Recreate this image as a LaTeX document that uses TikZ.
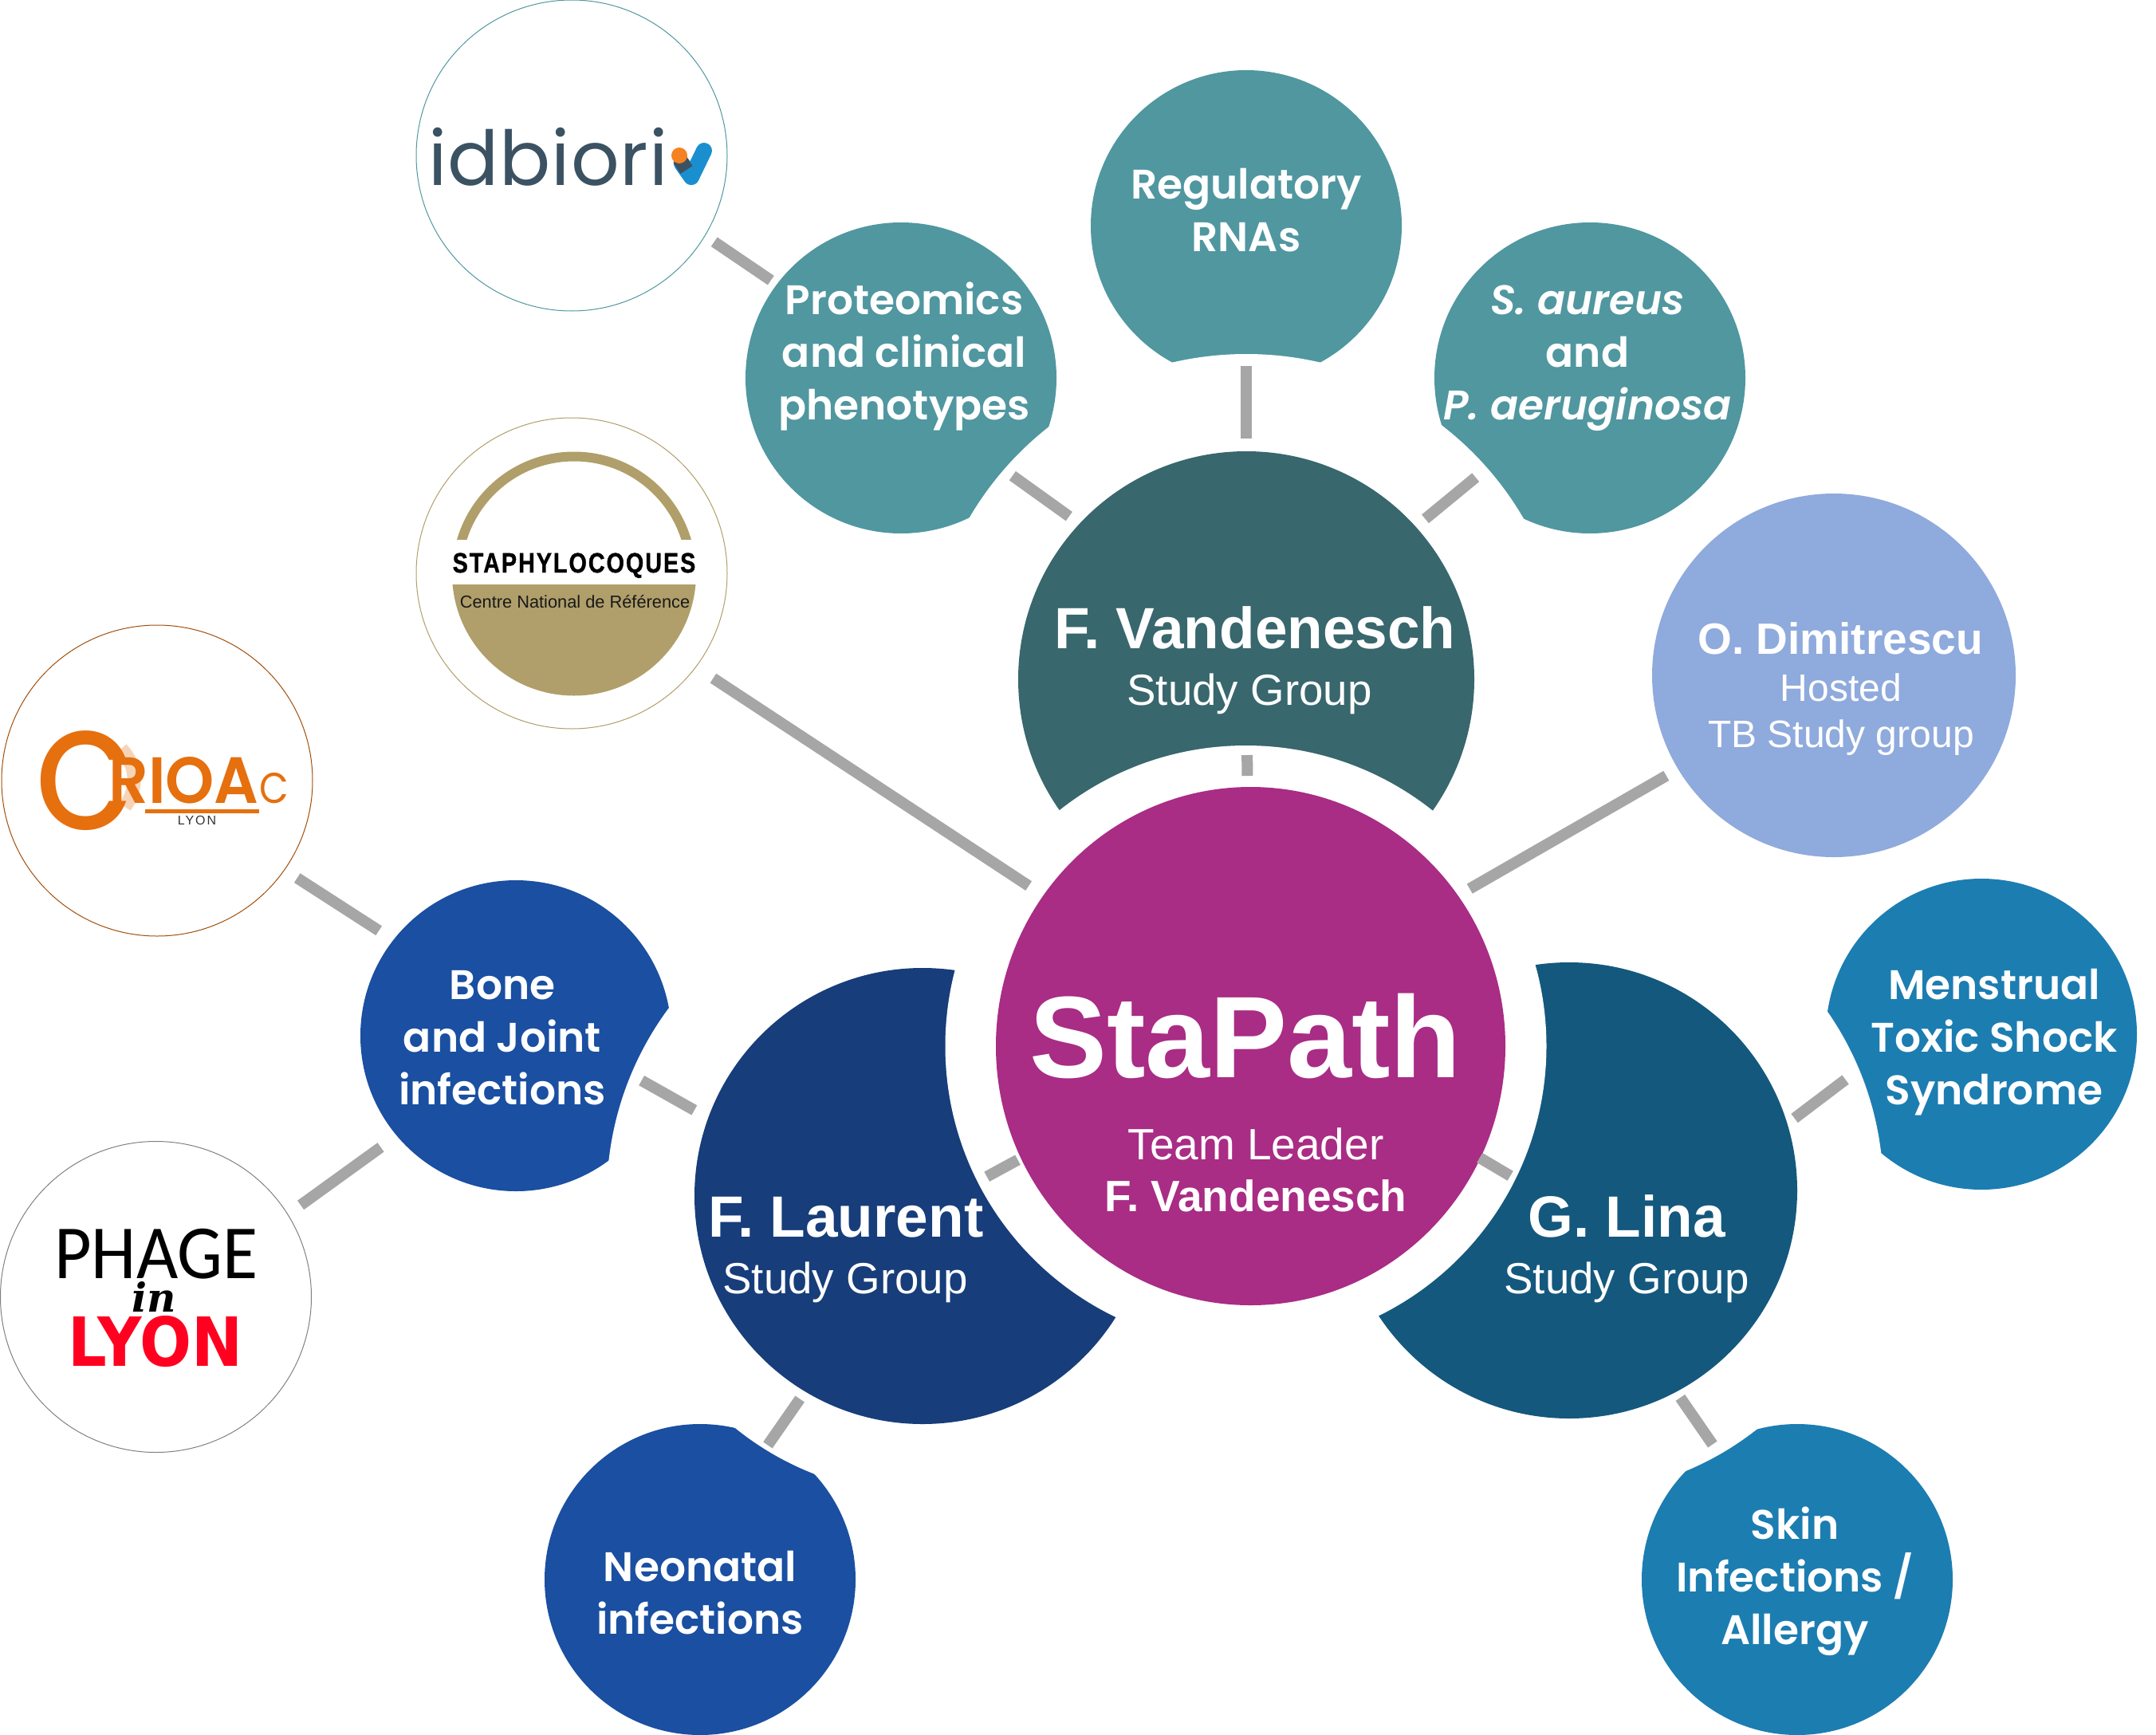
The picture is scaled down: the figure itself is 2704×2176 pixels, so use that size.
\documentclass[tikz,border=0pt]{standalone}
\usetikzlibrary{shapes.geometric}
\usepackage{fontspec}
\setmainfont{Liberation Sans}
\newfontfamily\labfont{Poppins SemiBold}[ItalicFont={Poppins SemiBold Italic}]
\newfontfamily\popfont{Poppins}
\newfontfamily\popmed{Poppins Medium}
\newfontfamily\dvserif{DejaVu Serif}
\newfontfamily\dvsans{DejaVu Sans}
\newfontfamily\carl{Carlito}
\newfontfamily\stafont[FakeBold=1.2,LetterSpace=7]{Liberation Sans Bold}
\definecolor{cTeal}{HTML}{5097A0}
\definecolor{cVand}{HTML}{38676D}
\definecolor{cCtr}{HTML}{A92C85}
\definecolor{cLaur}{HTML}{173D7A}
\definecolor{cLina}{HTML}{14587D}
\definecolor{cBone}{HTML}{1A4FA1}
\definecolor{cMens}{HTML}{1C7DB1}
\definecolor{cDimi}{HTML}{8FAADC}
\definecolor{cConn}{HTML}{A6A6A6}
\definecolor{cGold}{HTML}{B09F6A}
\definecolor{cOrange}{HTML}{E66F0E}
\definecolor{cIdb}{HTML}{3B5263}
\definecolor{cChkBlue}{HTML}{1A8FD0}
\definecolor{cChkOrange}{HTML}{F58220}
\definecolor{cRed}{HTML}{FF0020}
\tikzset{
  disc/.style={circle,inner sep=0pt,outer sep=0pt,minimum size=#1},
  small/.style={disc=390pt,fill=#1},
  group/.style={disc=572pt,fill=#1},
  logo/.style={disc=390pt,draw=#1,line width=1pt,fill=white},
  conn/.style={draw=cConn,line width=14pt},
  sl/.style={text=white,align=center,anchor=base,font=\labfont\fontsize{51.8}{65.8}\selectfont},
  bigname/.style={text=white,anchor=base,font=\bfseries\fontsize{73}{73}\selectfont},
  subname/.style={text=white,anchor=base,font=\fontsize{54.7}{55}\selectfont},
}
\begin{document}
\begin{tikzpicture}[x=1pt,y=-1pt]
\useasboundingbox (0,0) rectangle (2704,2176);
\coordinate (pV) at (1563,852);
\coordinate (pL) at (1157,1500);
\coordinate (pG) at (1968,1493);
\coordinate (pC) at (1568.5,1312);
\coordinate (pH) at (1562.5,1312);
% small discs, each cut by the white halo of its study group
\node[small=cTeal] (reg) at (1563,283) {};
\fill[white] (pV) circle[radius=408];
\node[small=cTeal] (prot) at (1130,474) {};
\node[small=cTeal] (saur) at (1994,474) {};
\fill[white] (pV) circle[radius=402];
\node[small=cBone] (bone) at (647,1299) {};
\fill[white] (pL) circle[radius=396];
\node[small=cBone] (neo) at (878,1981) {};
\fill[white] (pL) circle[radius=374];
\node[small=cMens] (mens) at (2485,1297) {};
\fill[white] (pG) circle[radius=394];
\node[small=cMens] (skin) at (2254,1981) {};
\fill[white] (pG) circle[radius=381];
% study groups
\node[group=cVand] (vand) at (pV) {};
\node[group=cLaur] (laur) at (pL) {};
\node[group=cLina] (lina) at (pG) {};
% centre
\fill[white] (pH) circle[radius=377];
\node[ellipse,inner sep=0pt,outer sep=0pt,minimum width=639pt,minimum height=650pt,fill=cCtr] (ctr) at (pC) {};
\node[disc=456pt,fill=cDimi] (dimi) at (2300,847) {};
% logos
\node[logo=cTeal] (idb) at (717,195) {};
\node[logo=cGold] (staph) at (717,719) {};
\node[logo=cOrange!70!black] (crio) at (197,979) {};
\node[logo=gray] (phage) at (195.5,1626.5) {};
% connectors
\draw[conn,shorten <=14,shorten >=9] (idb.-31.5) -- (prot.143.5);
\draw[conn,shorten <=-9,shorten >=16] (prot.-41.5) -- (vand.137.5);
\draw[conn,shorten <=-19,shorten >=16] (reg.-90) -- (vand.90);
\draw[conn,shorten <=-5,shorten >=15.5] (saur.221.5) -- (vand.42.6);
\draw[conn,shorten <=95,shorten >=339] (vand.center) -- (ctr.center);
\draw[conn,shorten <=26,shorten >=22] (staph.-37.3) -- (ctr.144.5);
\draw[conn,shorten <=17,shorten >=17] (dimi.211) -- (ctr.36.1);
\draw[conn,shorten <=19,shorten >=21.6] (crio.-35.1) -- (bone.142.1);
\draw[conn,shorten <=-28,shorten >=20] (bone.-21) -- (laur.160.8);
\draw[conn,shorten <=20,shorten >=24.8] (phage.32.6) -- (bone.220.9);
\draw[conn,shorten <=368,shorten >=4.5] (laur.212.3) -- (ctr.206.6);
\draw[conn,shorten <=11.4,shorten >=-6.3] (laur.239) -- (neo.63.2);
\draw[conn,shorten <=358,shorten >=-1] (lina.-35.1) -- (ctr.-26.7);
\draw[conn,shorten <=11.4,shorten >=-16] (lina.17.7) -- (mens.200.6);
\draw[conn,shorten <=9,shorten >=5] (lina.-62.6) -- (skin.122.3);
% small labels
\node[sl] (tprot) at (1134,526) {Proteomics\\and clinical\\phenotypes};
\node[sl] (treg) at (1563,315) {Regulatory\\RNAs};
\node[sl] (tsaur) at (1991,526) {\textit{S. aureus}\\and\\\textit{P. aeruginosa}};
\node[sl] (tbone) at (630,1385) {Bone\\and Joint\\infections};
\node[sl] (tneo) at (878,2049) {Neonatal\\infections};
\node[sl] (tmens) at (2501,1385) {Menstrual\\Toxic Shock\\Syndrome};
\node[sl] (tskin) at (2251,2062) {Skin\\Infections /\\Allergy};
% group labels
\node[bigname] (nV) at (1574,813) {F. Vandenesch};
\node[subname] (sV) at (1567,884) {Study Group};
\node[bigname] (nL) at (1061,1551) {F. Laurent};
\node[subname] (sL) at (1060,1622) {Study Group};
\node[bigname] (nG) at (2040,1551) {G. Lina};
\node[subname] (sG) at (2040,1622) {Study Group};
% centre labels
\node[text=white,anchor=base,font=\bfseries\fontsize{145.5}{146}\selectfont] (tC) at (1562,1351) {StaPath};
\node[text=white,anchor=base,font=\fontsize{55}{55}\selectfont] (tC2) at (1575,1454) {Team Leader};
\node[text=white,anchor=base,font=\bfseries\fontsize{55}{55}\selectfont] (tC3) at (1575,1519) {F. Vandenesch};
% Dimitrescu
\node[text=white,anchor=base,font=\bfseries\fontsize{55}{55}\selectfont] (tD1) at (2308,820) {O. Dimitrescu};
\node[text=white,anchor=base,font=\fontsize{48}{48}\selectfont] (tD2) at (2309,879) {Hosted};
\node[text=white,anchor=base,font=\fontsize{48}{48}\selectfont] (tD3) at (2309,937) {TB Study group};
% idbioriv logo
\node[anchor=base west,inner sep=0pt,text=cIdb,font=\popfont\fontsize{95}{95}\selectfont\addfontfeature{LetterSpace=1}] (tidb) at (537,232) {idbiori};
\draw[cChkBlue,line width=20pt,line cap=round,line join=round] (855,205) -- (867,222) -- (883,189);
\draw[cIdb,line width=18pt] (852,199) -- (861,213);
\fill[cChkOrange] (852,195) circle[radius=10];
% staph logo
\begin{scope}
\clip (500,500) rectangle (950,676);
\draw[cGold,line width=12pt] (720,719.5) circle[radius=147];
\end{scope}
\begin{scope}
\clip (500,733) rectangle (950,950);
\fill[cGold] (720,719.5) circle[radius=153];
\end{scope}
\node[anchor=base,inner sep=0pt,text=black,font=\stafont\fontsize{35}{35}\selectfont] (tst) at (720,718) {\scalebox{.82}[1]{STAPHYLOCOQUES}};
\node[anchor=base,inner sep=0pt,text=black!90,font=\fontsize{21.8}{22}\selectfont] (tcn) at (721,762) {Centre National de Référence};
% CRIOAc logo
\draw[cOrange!30!white,line width=17pt] (152,939) arc[start angle=-45,end angle=38,radius=55];
\node[anchor=base west,inner sep=0pt,text=cOrange,font=\popmed\fontsize{176}{176}\selectfont] (tc1) at (45,1040) {\scalebox{.9}[1]{C}};
\node[anchor=base west,inner sep=0pt,text=cOrange,font=\labfont\fontsize{82}{82}\selectfont] (tc2) at (136,1007) {\scalebox{.95}[1]{RIOA}};
\node[anchor=base west,inner sep=0pt,text=cOrange,font=\popfont\fontsize{54}{54}\selectfont] (tc3) at (325,1007) {\scalebox{.88}[1]{C}};
\fill[cOrange] (182,1014.5) rectangle (325,1019.5);
\node[anchor=base,inner sep=0pt,text=black!80,font=\fontsize{16}{16}\selectfont\addfontfeature{LetterSpace=12}] (tc4) at (247,1034) {LYON};
% Phage logo
\node[anchor=base,inner sep=0pt,text=black,font=\carl\fontsize{96}{96}\selectfont] (tp1) at (196,1603) {\scalebox{.94}[1]{PHAGE}};
\node[anchor=base,inner sep=0pt,text=black,font=\dvserif\bfseries\itshape\fontsize{50}{50}\selectfont] (tp2) at (193,1645) {in};
\node[anchor=base,inner sep=0pt,text=cRed,font=\dvsans\bfseries\fontsize{85}{85}\selectfont] (tp3) at (195,1713) {\scalebox{.9}[1]{LYON}};
\end{tikzpicture}
\end{document}
